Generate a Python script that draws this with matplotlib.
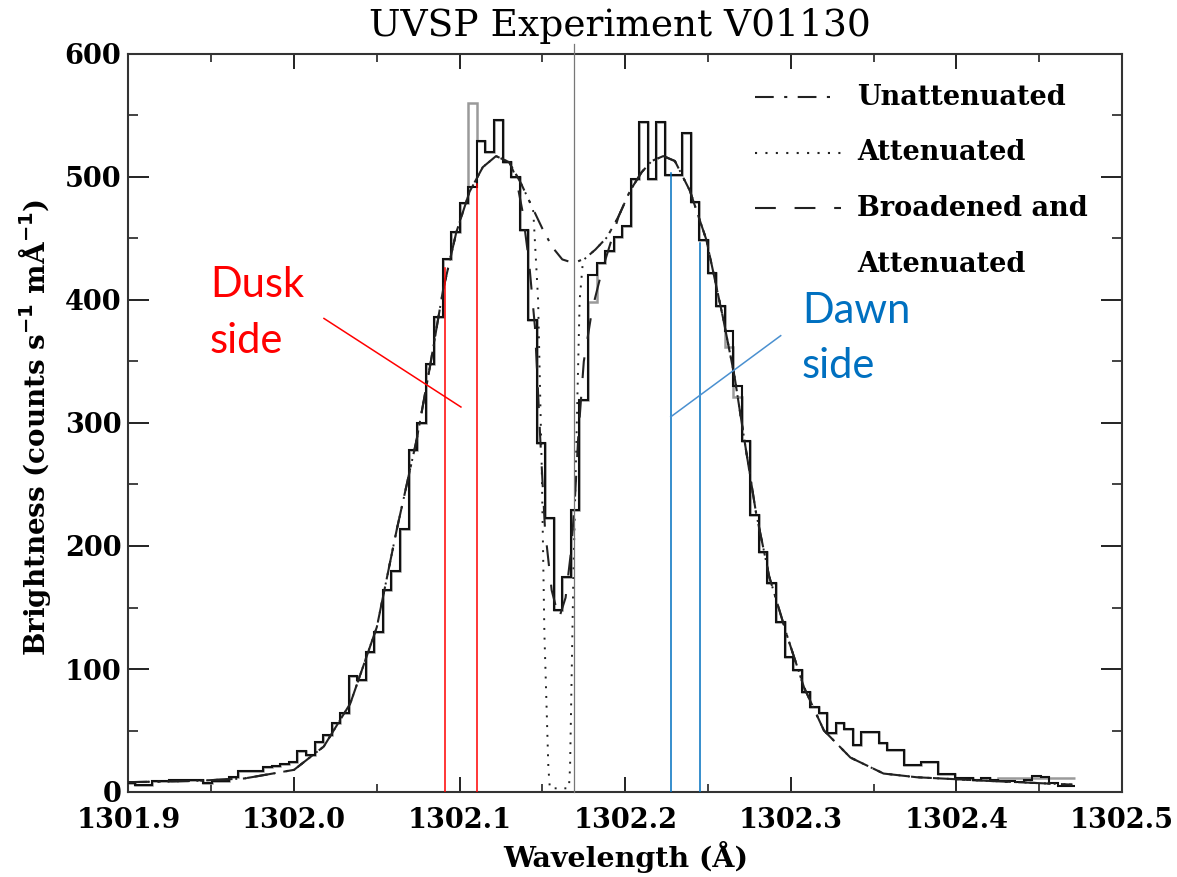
import numpy as np
import matplotlib
matplotlib.use("Agg")
import matplotlib.pyplot as plt
from matplotlib.ticker import MultipleLocator, FormatStrFormatter

# ---------------- data ----------------
# observed histogram (counts per bin), regular wavelength bins
bin_start = 1301.8989
bin_width = 0.00516
counts_black = [
    7, 6, 6, 9, 9, 10, 10, 10, 10, 7,
    9, 9, 12, 17, 17, 17, 20, 21, 23, 24,
    33, 30, 41, 46, 56, 64, 94, 91, 114, 130,
    164, 180, 214, 278, 300, 348, 386, 433, 455, 479,
    492, 529, 520, 546, 512, 500, 457, 384, 284, 223,
    148, 175, 229, 319, 420, 430, 440, 451, 460, 498,
    545, 498, 545, 502, 502, 536, 480, 449, 422, 395,
    375, 330, 285, 225, 195, 170, 138, 110, 99, 81,
    69, 64, 48, 56, 51, 38, 49, 49, 40, 34,
    34, 22, 22, 24, 24, 15, 15, 11, 11, 10,
    11, 10, 9, 9, 8, 10, 13, 12, 7, 5,
    5,
]
# second (gray) exposure differs from the black one only in these bins
gray_diff_bins = [40, 54, 70, 71, 102, 103, 104, 105, 106, 107, 108, 109, 110]
gray_diff_vals = [560, 398, 362, 321, 11, 11, 11, 11, 11, 11, 11, 11, 11]

# model: unattenuated profile
unatt_x = [1301.900, 1301.940, 1301.970, 1302.000, 1302.018, 1302.034, 1302.050,
           1302.062, 1302.074, 1302.082, 1302.090, 1302.098, 1302.106, 1302.114,
           1302.122, 1302.130, 1302.137, 1302.144, 1302.150, 1302.156, 1302.162,
           1302.169, 1302.176, 1302.182, 1302.189, 1302.196, 1302.203, 1302.210,
           1302.216, 1302.223, 1302.230, 1302.239, 1302.249, 1302.259, 1302.266,
           1302.272, 1302.279, 1302.287, 1302.298, 1302.308, 1302.320, 1302.336,
           1302.356, 1302.376, 1302.420, 1302.470]
unatt_y = [8, 9, 11, 18, 37, 72, 134,
           213, 286, 345, 408, 455, 488, 508,
           517, 512, 495, 475, 458, 443, 433,
           430, 434, 441, 451, 468, 489, 504,
           513, 517, 513, 489, 449, 386, 338,
           286, 227, 175, 126, 85, 50, 28,
           15, 12, 9, 6]

# attenuated profile: absorption core
att_core_x = [1302.1445, 1302.1474, 1302.1496, 1302.1512, 1302.1536, 1302.1545,
              1302.1660, 1302.1667, 1302.1687, 1302.1711, 1302.1725, 1302.1745]
att_core_y = [472, 400, 264, 129, 20, 3, 3, 20, 175, 319, 400, 432]

# broadened and attenuated profile: core
brd_core_x = [1302.134, 1302.138, 1302.142, 1302.1455, 1302.1486, 1302.1516,
              1302.1556, 1302.1600, 1302.1640, 1302.1675, 1302.1697, 1302.1717,
              1302.1750, 1302.1800, 1302.1860, 1302.1920]
brd_core_y = [500, 472, 430, 378, 290, 213, 164, 141, 158, 198, 240, 290,
              350, 392, 424, 450]

legend_labels = ["Unattenuated", "Attenuated", "Broadened and", "Attenuated"]
title = "UVSP Experiment V01130"
xlabel = "Wavelength (Å)"
ylabel = r"Brightness (counts s$^{\mathbf{-1}}$ mÅ$^{\mathbf{-1}}$)"

# annotation markers (data units)
dusk_vlines_x = [1302.0912, 1302.1105]
dusk_vlines_top = [426, 494]
dusk_pointer = ([1302.0181, 1302.1008], [385, 313])
dawn_vlines_x = [1302.2274, 1302.2452]
dawn_vlines_top = [503, 446]
dawn_pointer = ([1302.2275, 1302.2939], [305, 371])
center_line_x = 1302.169

# ---------------- build series ----------------
ux = np.array(unatt_x)
uy = np.array(unatt_y)
lo_a, hi_a = att_core_x[0], att_core_x[-1]
att_x = np.concatenate([ux[ux < lo_a], att_core_x, ux[ux > hi_a]])
att_y = np.concatenate([uy[ux < lo_a], att_core_y, uy[ux > hi_a]])
lo_b, hi_b = brd_core_x[0], brd_core_x[-1]
brd_x = np.concatenate([ux[ux < lo_b], brd_core_x, ux[ux > hi_b]])
brd_y = np.concatenate([uy[ux < lo_b], brd_core_y, uy[ux > hi_b]])

cb = np.array(counts_black, dtype=float)
cg = cb.copy()
cg[gray_diff_bins] = gray_diff_vals
edges = bin_start + bin_width * np.arange(len(cb) + 1)

# ---------------- figure ----------------
W, H = 1177, 877
fig = plt.figure(figsize=(W / 100, H / 100), dpi=100)
ax_l, ax_r, ax_t, ax_b = 128.4, 1122, 54, 792
ax = fig.add_axes([ax_l / W, 1 - ax_b / H, (ax_r - ax_l) / W, (ax_b - ax_t) / H])

serif = "DejaVu Serif"
DD = (0, (9, 5, 1.5, 5))
DOT = (0, (1, 4))
DASH = (0, (10, 9))

ax.stairs(cg, edges, baseline=None, color="#9a9a9a", lw=1.8, zorder=2)
ax.stairs(cb, edges, baseline=None, color="#111111", lw=1.5, zorder=3)

ax.plot(ux, uy, color="#222222", lw=1.5, ls=DD, zorder=4)
ax.plot(att_x, att_y, color="#222222", lw=1.4, ls=DOT, zorder=4)
ax.plot(brd_x, brd_y, color="#222222", lw=1.5, ls=DASH, zorder=4)

# center reference line (extends above the frame)
ax.plot([center_line_x, center_line_x], [0, 608], color="#777777", lw=0.9,
        clip_on=False, zorder=5)

# annotations
red = "#FF0000"
blue = "#0070C0"
for x, t in zip(dusk_vlines_x, dusk_vlines_top):
    ax.plot([x, x], [0, t], color=red, lw=1.1, zorder=6)
ax.plot(*dusk_pointer, color=red, lw=1.1, zorder=6)
for x, t in zip(dawn_vlines_x, dawn_vlines_top):
    ax.plot([x, x], [0, t], color=blue, lw=1.1, zorder=6)
ax.plot(*dawn_pointer, color="#4A90D0", lw=1.1, zorder=6)

ax.set_xlim(1301.9, 1302.5)
ax.set_ylim(0, 600)
ax.xaxis.set_major_locator(MultipleLocator(0.1))
ax.xaxis.set_minor_locator(MultipleLocator(0.05))
ax.yaxis.set_major_locator(MultipleLocator(100))
ax.yaxis.set_minor_locator(MultipleLocator(50))
ax.xaxis.set_major_formatter(FormatStrFormatter("%.1f"))
ax.tick_params(axis="both", which="both", direction="in", top=True, right=True,
               colors="#222222", labelcolor="black")
ax.tick_params(axis="x", which="major", length=11, width=1.4, pad=11, labelsize=19.5)
ax.tick_params(axis="x", which="minor", length=5.5, width=1.2)
ax.tick_params(axis="y", which="major", length=15, width=1.4, pad=5, labelsize=19.5)
ax.tick_params(axis="y", which="minor", length=7.5, width=1.2)
for lab in ax.get_xticklabels() + ax.get_yticklabels():
    lab.set_fontfamily(serif)
    lab.set_fontweight("semibold")
for s in ax.spines.values():
    s.set_linewidth(1.5)
    s.set_color("#333333")

# legend drawn in axes fraction coords
hx0, hx1, tx = 0.6306, 0.711, 0.7333
rows = [0.9417, 0.8659, 0.7913, 0.7141]
styles = [DD, DOT, DASH, None]
for yr, st, lab in zip(rows, styles, legend_labels):
    if st is not None:
        ax.plot([hx0, hx1 if st is DD else hx1 + 0.006], [yr, yr], transform=ax.transAxes,
                color="#222222", lw=1.5, ls=st)
    ax.text(tx, yr, lab, transform=ax.transAxes, ha="left", va="center",
            fontsize=19.5, fontweight="bold", family=serif)

# titles / labels
fig.text(620 / W, 1 - 26 / H, title, ha="center", va="center", fontsize=27, family=serif)
fig.text(626 / W, 1 - 857 / H, xlabel, ha="center", va="center", fontsize=20.5,
         fontweight="bold", family=serif)
fig.text(35 / W, 1 - 427 / H, ylabel, ha="center", va="center", rotation=90,
         fontsize=20, fontweight="bold", family=serif)

# Dusk / Dawn labels
sans = ["Lato", "DejaVu Sans"]
fig.text(210 / W, 1 - 297 / H, "Dusk", color=red, fontsize=30, family=sans, va="baseline")
fig.text(210 / W, 1 - 353 / H, "side", color=red, fontsize=30, family=sans, va="baseline")
fig.text(802 / W, 1 - 323 / H, "Dawn", color=blue, fontsize=30, family=sans, va="baseline")
fig.text(802 / W, 1 - 378 / H, "side", color=blue, fontsize=30, family=sans, va="baseline")

fig.savefig("out.png", dpi=100)
